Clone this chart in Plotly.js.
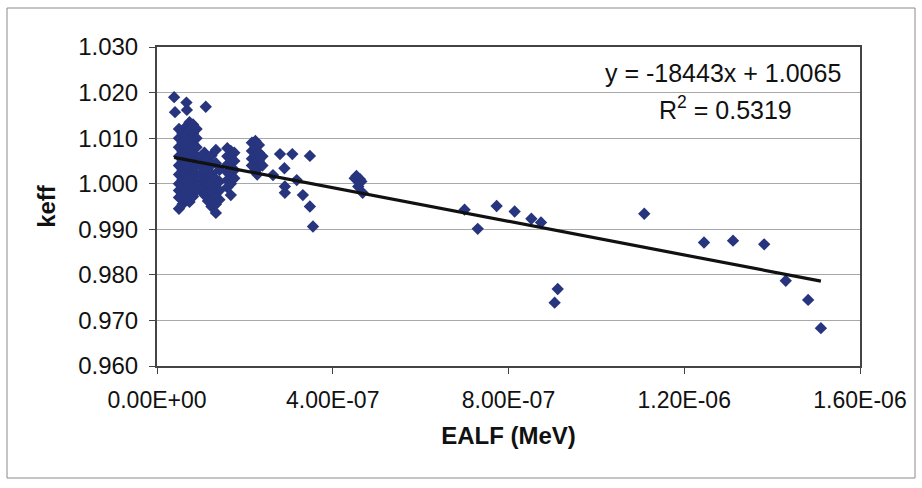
<!DOCTYPE html>
<html>
<head>
<meta charset="utf-8">
<script src="https://cdn.plot.ly/plotly-3.0.1.min.js"></script>
<style>
  html, body { margin: 0; padding: 0; background: #ffffff; }
  #chart { width: 922px; height: 488px; }
</style>
</head>
<body>
<div id="chart"></div>
<script>
// EALF (MeV), in units of 1e-6, and the matching keff values
const ealfMicro = [
  // low-energy cluster
  0.039, 0.041, 0.067, 0.068, 0.111,
  0.050, 0.050, 0.050, 0.050, 0.050, 0.050, 0.050, 0.050, 0.050, 0.050,
  0.058, 0.058, 0.058, 0.058, 0.058, 0.058, 0.058, 0.058, 0.058,
  0.066, 0.066, 0.066, 0.066, 0.066, 0.066, 0.066, 0.066, 0.066,
  0.074, 0.074, 0.074, 0.074, 0.074, 0.074, 0.074, 0.074, 0.074, 0.074,
  0.082, 0.082, 0.082, 0.082, 0.082, 0.082, 0.082, 0.082, 0.082,
  0.090, 0.090, 0.090, 0.090, 0.090, 0.090, 0.090, 0.090,
  0.100, 0.100, 0.100, 0.100, 0.100,
  0.108, 0.108, 0.108, 0.108, 0.108, 0.108,
  0.116, 0.116, 0.116, 0.116, 0.116, 0.116,
  0.124, 0.124, 0.124, 0.124, 0.124, 0.124, 0.124,
  0.134, 0.134, 0.134, 0.134, 0.134, 0.134, 0.134,
  0.142, 0.142, 0.142, 0.142,
  0.160, 0.160, 0.160, 0.160, 0.160, 0.160,
  0.168, 0.168, 0.168, 0.168, 0.168, 0.168,
  0.176, 0.176, 0.176, 0.176,
  0.216, 0.216, 0.216, 0.216,
  0.224, 0.224, 0.224, 0.224, 0.224,
  0.232, 0.232, 0.232, 0.232,
  0.240, 0.240, 0.228,
  // scattered mid-range points
  0.280, 0.308, 0.348, 0.290, 0.264, 0.318, 0.291, 0.291, 0.332, 0.348, 0.355,
  0.454, 0.450, 0.462, 0.465, 0.458, 0.468,
  0.700, 0.730, 0.773, 0.814, 0.852, 0.874, 0.912, 0.905,
  1.109, 1.245, 1.311, 1.382, 1.431, 1.482, 1.511
];

const keff = [
  1.0190, 1.0157, 1.0178, 1.0162, 1.0169,
  1.0120, 1.0100, 1.0080, 1.0060, 1.0040, 1.0020, 1.0000, 0.9985, 0.9970, 0.9945,
  1.0110, 1.0090, 1.0070, 1.0050, 1.0030, 1.0010, 0.9995, 0.9975, 0.9955,
  1.0125, 1.0105, 1.0085, 1.0065, 1.0045, 1.0025, 1.0005, 0.9990, 0.9965,
  1.0135, 1.0115, 1.0095, 1.0075, 1.0055, 1.0035, 1.0015, 0.9998, 0.9980, 0.9960,
  1.0130, 1.0110, 1.0088, 1.0068, 1.0048, 1.0028, 1.0008, 0.9990, 0.9972,
  1.0120, 1.0100, 1.0080, 1.0060, 1.0040, 1.0020, 1.0002, 0.9985,
  1.0060, 1.0040, 1.0020, 1.0000, 0.9985,
  1.0068, 1.0050, 1.0030, 1.0010, 0.9990, 0.9975,
  1.0055, 1.0035, 1.0015, 0.9995, 0.9980, 0.9962,
  1.0062, 1.0042, 1.0022, 1.0003, 0.9984, 0.9968, 0.9950,
  1.0074, 1.0045, 1.0010, 0.9990, 0.9972, 0.9955, 0.9936,
  1.0030, 1.0005, 0.9985, 0.9965,
  1.0078, 1.0060, 1.0042, 1.0025, 1.0008, 0.9992,
  1.0072, 1.0055, 1.0035, 1.0018, 1.0000, 0.9975,
  1.0068, 1.0050, 1.0030, 1.0012,
  1.0090, 1.0072, 1.0055, 1.0040,
  1.0094, 1.0080, 1.0062, 1.0045, 1.0030,
  1.0085, 1.0068, 1.0050, 1.0036,
  1.0060, 1.0040, 1.0020,
  1.0065, 1.0065, 1.0061, 1.0034, 1.0019, 1.0008, 0.9994, 0.9980, 0.9975, 0.9950, 0.9906,
  1.0017, 1.0012, 1.0010, 1.0005, 0.9994, 0.9980,
  0.9943, 0.9901, 0.9951, 0.9939, 0.9923, 0.9915, 0.9769, 0.9739,
  0.9934, 0.9871, 0.9875, 0.9867, 0.9787, 0.9745, 0.9683
];

// Linear fit reported on the chart
const fitSlope = -18443;
const fitIntercept = 1.0065;
const fitR2 = 0.5319;

// Axis ticks
const xTickVals = [0, 4e-7, 8e-7, 1.2e-6, 1.6e-6];
const xTickText = ['0.00E+00', '4.00E-07', '8.00E-07', '1.20E-06', '1.60E-06'];
const yTickVals = [0.960, 0.970, 0.980, 0.990, 1.000, 1.010, 1.020, 1.030];
const yTickText = ['0.960', '0.970', '0.980', '0.990', '1.000', '1.010', '1.020', '1.030'];

const ealf = ealfMicro.map(v => v * 1e-6);
const xMin = Math.min(...ealf);
const xMax = Math.max(...ealf);
const fitX = [xMin, xMax];
const fitY = fitX.map(x => fitSlope * x + fitIntercept);

const FONT = 'Liberation Sans, Arial, sans-serif';

const traces = [
  {
    type: 'scatter', mode: 'markers',
    x: ealf, y: keff,
    marker: { symbol: 'diamond', size: 9.5, color: '#27347E', line: { width: 0 } },
    hoverinfo: 'x+y'
  },
  {
    type: 'scatter', mode: 'lines',
    x: fitX, y: fitY,
    line: { color: '#111111', width: 3.2 },
    hoverinfo: 'skip'
  }
];

// plot area spans 157..860 px horizontally and 47..366 px vertically
const L = 157, R = 62, T = 47, B = 122;
const pw = 922 - L - R, ph = 488 - T - B;
const px = p => (p - L) / pw;
const py = p => (488 - B - p) / ph;

const layout = {
  width: 922, height: 488,
  margin: { l: L, r: R, t: T, b: B, pad: 0 },
  paper_bgcolor: '#ffffff',
  plot_bgcolor: '#ffffff',
  showlegend: false,
  font: { family: FONT, color: '#111111', size: 24 },
  xaxis: {
    range: [0, 1.6e-6],
    tickmode: 'array', tickvals: xTickVals, ticktext: xTickText,
    ticks: 'outside', ticklen: 6, tickwidth: 1, tickcolor: '#444',
    ticklabelstandoff: 6,
    showgrid: false, zeroline: false,
    showline: true, linecolor: '#444', linewidth: 2, mirror: true,
    tickfont: { family: FONT, size: 23, color: '#111' },
    title: { text: '<b>EALF (MeV)</b>', font: { family: FONT, size: 24, color: '#111' }, standoff: 16 }
  },
  yaxis: {
    range: [0.960, 1.030],
    tickmode: 'array', tickvals: yTickVals, ticktext: yTickText,
    ticks: 'outside', ticklen: 6, tickwidth: 1, tickcolor: '#444',
    ticklabelstandoff: 6,
    showgrid: true, gridcolor: '#a8a8a8', gridwidth: 1,
    zeroline: false,
    showline: true, linecolor: '#444', linewidth: 2, mirror: true,
    tickfont: { family: FONT, size: 24, color: '#111' },
    title: { text: '<b>keff</b>', font: { family: FONT, size: 24, color: '#111' }, standoff: 16 }
  },
  annotations: [
    {
      xref: 'paper', yref: 'paper', x: px(723), y: py(73),
      xanchor: 'center', yanchor: 'middle', showarrow: false,
      text: 'y = ' + fitSlope + 'x + ' + fitIntercept.toFixed(4),
      font: { family: FONT, size: 25, color: '#111' }
    },
    {
      xref: 'paper', yref: 'paper', x: px(725), y: py(108),
      xanchor: 'center', yanchor: 'middle', showarrow: false,
      text: 'R<sup>2</sup> = ' + fitR2.toFixed(4),
      font: { family: FONT, size: 25, color: '#111' }
    }
  ],
  shapes: [
    {
      type: 'rect', xref: 'paper', yref: 'paper',
      x0: px(7), x1: px(915), y0: py(478), y1: py(8),
      line: { color: '#8a8a8a', width: 1 }, fillcolor: 'rgba(0,0,0,0)', layer: 'below'
    }
  ]
};

Plotly.newPlot('chart', traces, layout, { displayModeBar: false, staticPlot: true });
</script>
</body>
</html>
